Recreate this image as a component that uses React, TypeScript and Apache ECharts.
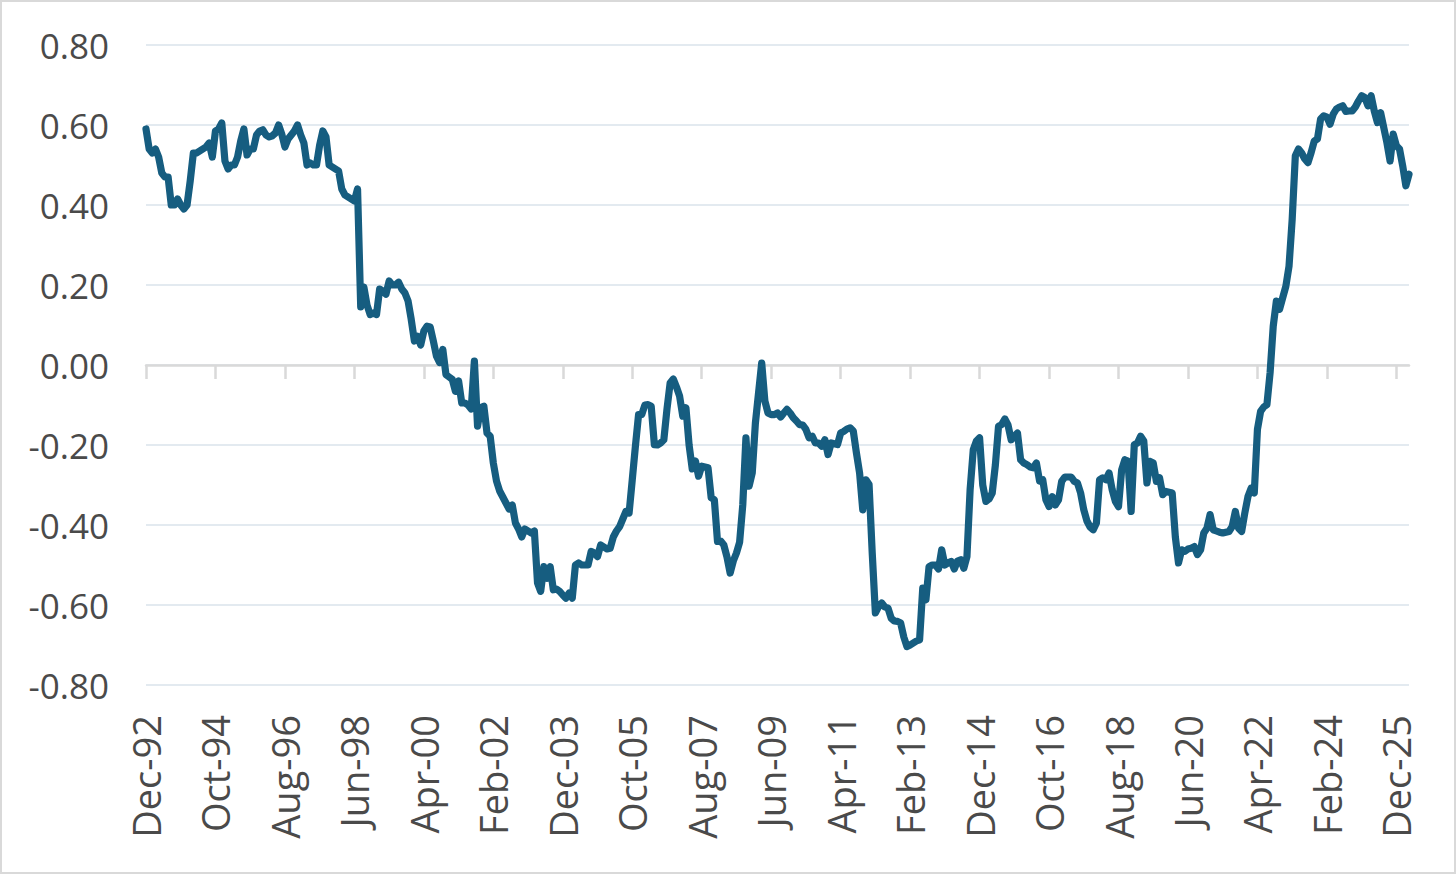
import React, { useEffect, useRef } from "react";
import * as echarts from "echarts";

const MONTHS = ["Jan", "Feb", "Mar", "Apr", "May", "Jun", "Jul", "Aug", "Sep", "Oct", "Nov", "Dec"];

const v1992 = [0.59];
const v1993 = [0.54, 0.53, 0.54, 0.52, 0.48, 0.47, 0.47, 0.40, 0.40, 0.415, 0.40, 0.39];
const v1994 = [0.40, 0.46, 0.53, 0.53, 0.535, 0.54, 0.545, 0.555, 0.52, 0.585, 0.59, 0.605];
const v1995 = [0.51, 0.49, 0.50, 0.50, 0.52, 0.56, 0.59, 0.525, 0.54, 0.54, 0.575, 0.585];
const v1996 = [0.588, 0.575, 0.57, 0.573, 0.58, 0.60, 0.577, 0.545, 0.565, 0.575, 0.585, 0.60];
const v1997 = [0.575, 0.555, 0.50, 0.505, 0.50, 0.50, 0.55, 0.585, 0.57, 0.50, 0.495, 0.49];
const v1998 = [0.485, 0.44, 0.425, 0.42, 0.415, 0.41, 0.44, 0.145, 0.195, 0.15, 0.126, 0.13];
const v1999 = [0.126, 0.19, 0.185, 0.177, 0.21, 0.20, 0.20, 0.207, 0.19, 0.18, 0.16, 0.114];
const v2000 = [0.06, 0.072, 0.05, 0.085, 0.097, 0.095, 0.06, 0.022, 0.006, 0.039, -0.024, -0.03];
const v2001 = [-0.036, -0.066, -0.04, -0.095, -0.095, -0.10, -0.11, 0.01, -0.153, -0.107, -0.103, -0.17];
const v2002 = [-0.178, -0.245, -0.29, -0.315, -0.33, -0.345, -0.36, -0.35, -0.395, -0.41, -0.43, -0.41];
const v2003 = [-0.415, -0.42, -0.415, -0.545, -0.566, -0.504, -0.533, -0.504, -0.562, -0.56, -0.566, -0.575];
const v2004 = [-0.583, -0.57, -0.583, -0.50, -0.495, -0.50, -0.50, -0.50, -0.466, -0.47, -0.479, -0.45];
const v2005 = [-0.455, -0.46, -0.458, -0.43, -0.415, -0.404, -0.385, -0.366, -0.37, -0.287, -0.203, -0.124];
const v2006 = [-0.124, -0.10, -0.099, -0.103, -0.199, -0.20, -0.195, -0.187, -0.11, -0.045, -0.035, -0.055];
const v2007 = [-0.078, -0.128, -0.107, -0.20, -0.26, -0.24, -0.278, -0.253, -0.255, -0.257, -0.332, -0.337];
const v2008 = [-0.441, -0.44, -0.45, -0.48, -0.52, -0.49, -0.47, -0.443, -0.35, -0.182, -0.303, -0.27];
const v2009 = [-0.145, -0.07, 0.005, -0.09, -0.12, -0.124, -0.124, -0.12, -0.13, -0.12, -0.111, -0.12];
const v2010 = [-0.132, -0.14, -0.149, -0.15, -0.161, -0.182, -0.178, -0.195, -0.195, -0.203, -0.187, -0.224];
const v2011 = [-0.195, -0.197, -0.199, -0.17, -0.166, -0.16, -0.157, -0.165, -0.22, -0.27, -0.362, -0.287];
const v2012 = [-0.299, -0.47, -0.62, -0.604, -0.595, -0.605, -0.608, -0.633, -0.64, -0.641, -0.645, -0.68];
const v2013 = [-0.704, -0.70, -0.695, -0.69, -0.687, -0.558, -0.587, -0.504, -0.50, -0.50, -0.51, -0.462];
const v2014 = [-0.50, -0.495, -0.491, -0.51, -0.49, -0.487, -0.508, -0.479, -0.312, -0.212, -0.19, -0.182];
const v2015 = [-0.30, -0.341, -0.335, -0.32, -0.25, -0.153, -0.149, -0.135, -0.15, -0.187, -0.178, -0.17];
const v2016 = [-0.237, -0.245, -0.249, -0.255, -0.257, -0.245, -0.29, -0.287, -0.337, -0.354, -0.329, -0.35];
const v2017 = [-0.337, -0.291, -0.28, -0.28, -0.28, -0.291, -0.295, -0.32, -0.362, -0.39, -0.405, -0.412];
const v2018 = [-0.395, -0.287, -0.282, -0.287, -0.27, -0.312, -0.341, -0.354, -0.262, -0.237, -0.24, -0.366];
const v2019 = [-0.199, -0.195, -0.178, -0.19, -0.295, -0.241, -0.245, -0.291, -0.282, -0.324, -0.316, -0.318];
const v2020 = [-0.32, -0.43, -0.495, -0.462, -0.466, -0.46, -0.458, -0.454, -0.474, -0.462, -0.42, -0.408];
const v2021 = [-0.374, -0.412, -0.415, -0.418, -0.42, -0.418, -0.416, -0.404, -0.366, -0.408, -0.416, -0.37];
const v2022 = [-0.329, -0.308, -0.32, -0.161, -0.116, -0.105, -0.099, -0.02, 0.097, 0.16, 0.139, 0.168];
const v2023 = [0.197, 0.247, 0.364, 0.523, 0.54, 0.53, 0.515, 0.506, 0.531, 0.56, 0.565, 0.615];
const v2024 = [0.623, 0.62, 0.602, 0.627, 0.64, 0.645, 0.648, 0.634, 0.635, 0.635, 0.645, 0.66];
const v2025 = [0.673, 0.669, 0.648, 0.673, 0.635, 0.606, 0.631, 0.594, 0.556, 0.51, 0.577, 0.548];
const v2026 = [0.54, 0.498, 0.448, 0.477];

const values: number[] = [
  ...v1992, ...v1993, ...v1994, ...v1995, ...v1996, ...v1997, ...v1998, ...v1999,
  ...v2000, ...v2001, ...v2002, ...v2003, ...v2004, ...v2005, ...v2006, ...v2007,
  ...v2008, ...v2009, ...v2010, ...v2011, ...v2012, ...v2013, ...v2014, ...v2015,
  ...v2016, ...v2017, ...v2018, ...v2019, ...v2020, ...v2021, ...v2022, ...v2023,
  ...v2024, ...v2025, ...v2026,
];

const START_YEAR = 1992;
const START_MONTH = 11; // December
const categories: string[] = values.map((_, k) => {
  const m = (START_MONTH + k) % 12;
  const y = START_YEAR + Math.floor((START_MONTH + k) / 12);
  return `${MONTHS[m]}-${String(y % 100).padStart(2, "0")}`;
});

const Y_MIN = -0.8;
const Y_MAX = 0.8;
const Y_STEP = 0.2;
const LABEL_EVERY = 22;

const FONT = "'Open Sans', 'Noto Sans', sans-serif";
const TEXT_COLOR = "#4a4a4a";
const LINE_COLOR = "#165d80";
const GRID_COLOR = "#e3eaf0";
const AXIS_COLOR = "#d9d9d9";

export default function App() {
  const ref = useRef<HTMLDivElement>(null);

  useEffect(() => {
    document.body.style.margin = "0";
    if (!ref.current) return;
    const chart = echarts.init(ref.current, undefined, { renderer: "svg" });
    chart.setOption({
      animation: false,
      backgroundColor: "#ffffff",
      grid: { left: 146, right: 47, top: 45, bottom: 189, containLabel: false },
      xAxis: [
        {
          type: "category",
          data: categories,
          boundaryGap: false,
          axisLine: { show: true, onZero: true, lineStyle: { color: AXIS_COLOR, width: 2.5 } },
          axisTick: { show: true, interval: LABEL_EVERY - 1, length: 14, lineStyle: { color: AXIS_COLOR, width: 2.5 } },
          axisLabel: { show: false },
          splitLine: { show: false },
        },
        {
          type: "category",
          data: categories,
          boundaryGap: false,
          position: "bottom",
          axisLine: { show: false, onZero: false },
          axisTick: { show: false },
          splitLine: { show: false },
          axisLabel: {
            interval: LABEL_EVERY - 1,
            rotate: 90,
            margin: 30,
            fontSize: 38,
            color: TEXT_COLOR,
            fontFamily: FONT,
          },
        },
      ],
      yAxis: {
        type: "value",
        min: Y_MIN,
        max: Y_MAX,
        interval: Y_STEP,
        axisLine: { show: false },
        axisTick: { show: false },
        axisLabel: {
          margin: 37,
          fontSize: 35,
          color: TEXT_COLOR,
          fontFamily: FONT,
          formatter: (v: number) => (Math.abs(v) < 1e-9 ? "0.00" : v.toFixed(2)),
        },
        splitLine: { show: true, lineStyle: { color: GRID_COLOR, width: 2 } },
      },
      series: [
        {
          type: "line",
          xAxisIndex: 0,
          data: values,
          symbol: "none",
          smooth: false,
          lineStyle: { color: LINE_COLOR, width: 7.2, join: "round", cap: "round" },
        },
      ],
    });
    return () => chart.dispose();
  }, []);

  return (
    <div style={{ position: "relative", width: 1456, height: 874, background: "#fff" }}>
      <div ref={ref} style={{ position: "absolute", left: 0, top: 0, width: 1456, height: 874 }} />
      <div
        style={{
          position: "absolute",
          left: 0,
          top: 0,
          width: 1456,
          height: 874,
          boxSizing: "border-box",
          border: `2px solid ${AXIS_COLOR}`,
          pointerEvents: "none",
        }}
      />
    </div>
  );
}
